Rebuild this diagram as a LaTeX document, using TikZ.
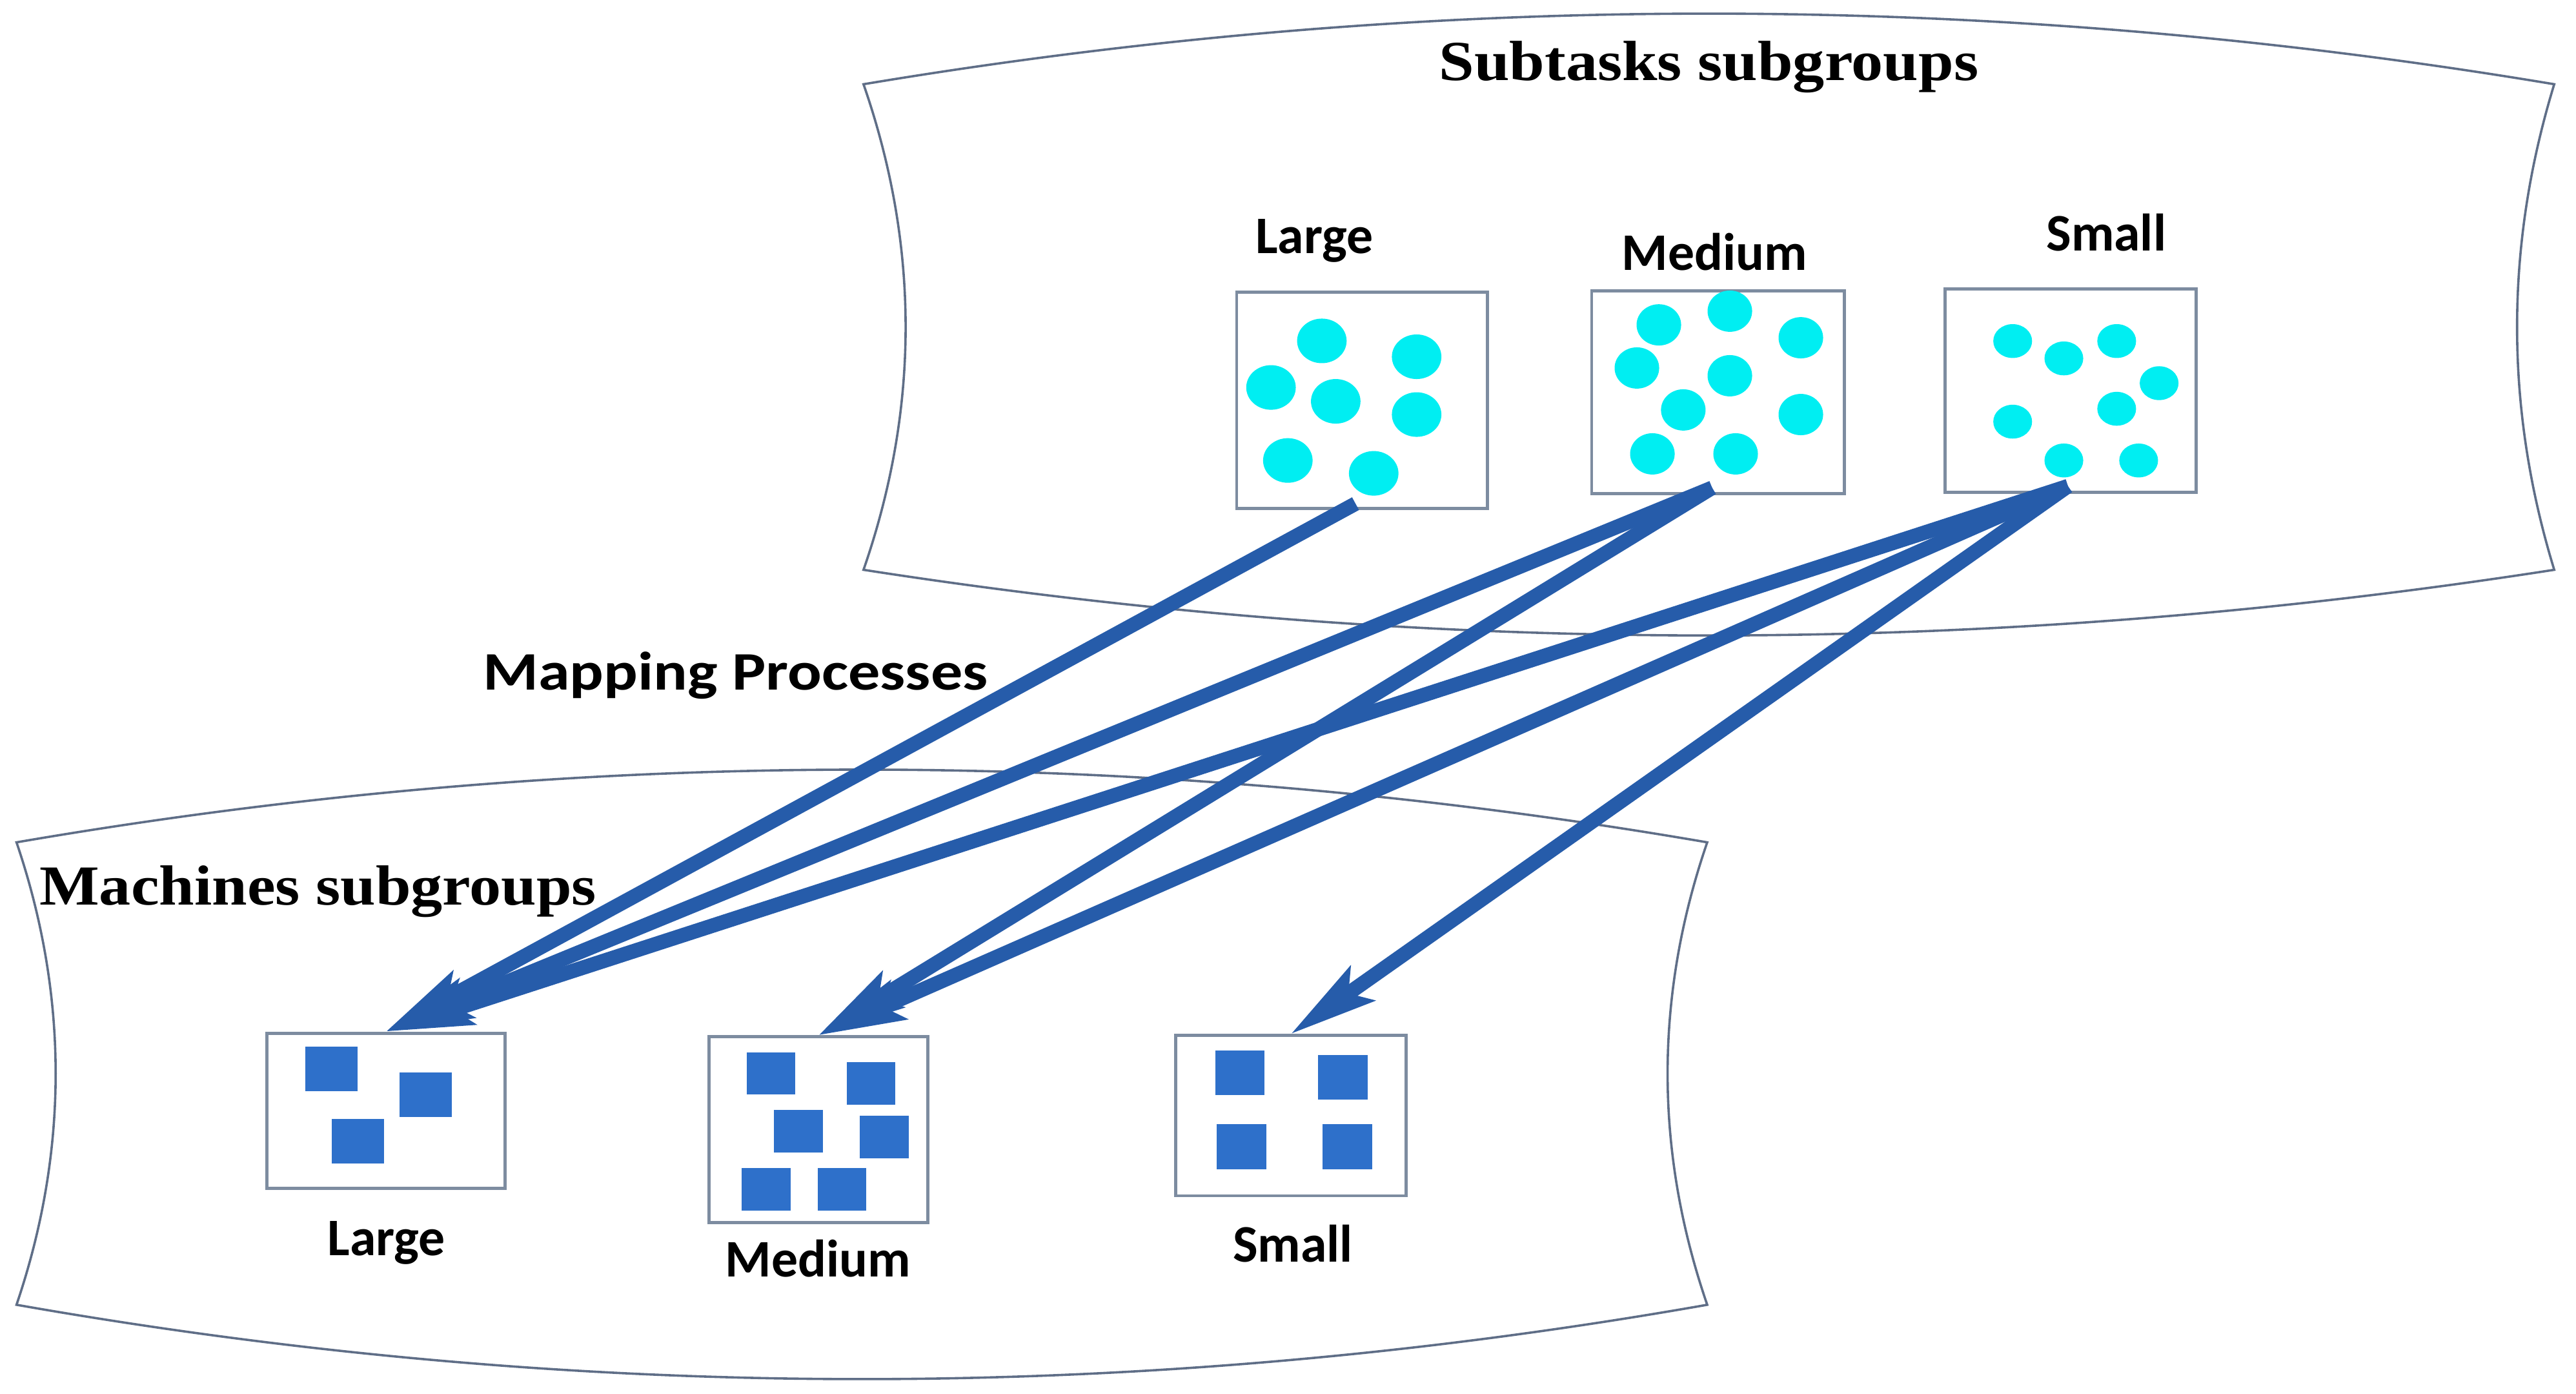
\documentclass[tikz,border=0pt]{standalone}
\usepackage{fontspec}
\usetikzlibrary{arrows.meta}
\newfontfamily\titlefont[FakeStretch=1.12]{Liberation Serif}
\newfontfamily\mapfont[FakeStretch=1.17]{Carlito}
\newfontfamily\sizefont{Carlito}
\definecolor{outline}{RGB}{95,110,135}
\definecolor{boxline}{RGB}{125,140,160}
\definecolor{taskdot}{RGB}{0,238,242}
\definecolor{machinesq}{RGB}{46,112,202}
\definecolor{maparrow}{RGB}{38,92,170}
\tikzset{
  group/.style={draw=outline, line width=0.8pt},
  subbox/.style={draw=boxline, line width=1.1pt, inner sep=0pt},
  title/.style={font=\titlefont\bfseries\fontsize{19.5}{22}\selectfont, anchor=base, inner sep=0pt},
  maptext/.style={font=\mapfont\bfseries\fontsize{18.7}{21}\selectfont, anchor=base, inner sep=0pt},
  sizelabel/.style={font=\sizefont\bfseries\fontsize{18.2}{20}\selectfont, anchor=base, inner sep=0pt},
  mapping/.style={draw=maparrow, line width=5pt, -{Stealth[length=1.05cm,width=0.5cm,inset=0.2cm]}},
}
\begin{document}
\begin{tikzpicture}[x=0.02cm, y=-0.02cm]
    \useasboundingbox (0,0) rectangle (1560.2,844);
    % subtasks side
    \draw[group] (523,51) .. controls (864,-6) and (1206,-6) .. (1547,51)
      .. controls (1517,149) and (1517,247) .. (1547,345)
      .. controls (1206,398) and (864,398) .. (523,345)
      .. controls (557,247) and (557,149) .. cycle;
    \node[title] (subtasks) at (1035,48.6) {Subtasks subgroups};
    \node[subbox, minimum width=3.04cm, minimum height=2.62cm] (tL) at (825,242.5) {};
    \node[subbox, minimum width=3.06cm, minimum height=2.46cm] (tM) at (1040.5,237.5) {};
    \node[subbox, minimum width=3.04cm, minimum height=2.46cm] (tS) at (1254,236.5) {};
    \node[sizelabel] (tLlabel) at (796,153.3) {Large};
    \node[sizelabel] (tMlabel) at (1038.5,163.5) {Medium};
    \node[sizelabel] (tSlabel) at (1275.7,152) {Small};
    \foreach \x/\y in {800.6/206.4, 858/216, 769.8/234.6, 809/243, 858/251, 780/278.8, 832/286.6}
      \fill[taskdot] (\x,\y) ellipse [x radius=0.3cm, y radius=0.27cm];
    \foreach \x/\y in {1004.7/196.7, 1047.7/188.4, 1090.7/204.5, 991.4/222.8, 1047.7/227.5,
                       1019.5/248.2, 1090.7/251, 1000.8/274.8, 1051.2/274.8}
      \fill[taskdot] (\x,\y) ellipse [x radius=0.27cm, y radius=0.25cm];
    \foreach \x/\y in {1219/206.5, 1250/217, 1282/206.5, 1307.7/232, 1219/255.3,
                       1282/247.5, 1250/278.8, 1295.3/278.8}
      \fill[taskdot] (\x,\y) ellipse [x radius=0.235cm, y radius=0.205cm];

    % machines side
    \draw[group] (10,510) .. controls (351,451.3) and (693,451.3) .. (1034,510)
      .. controls (1002,603) and (1002,697) .. (1034,790)
      .. controls (693,850) and (351,850) .. (10,790)
      .. controls (41.6,697) and (41.6,603) .. cycle;
    \node[title, anchor=base west] (machines) at (23.6,548) {Machines subgroups};
    \node[subbox, minimum width=2.89cm, minimum height=1.88cm] (mL) at (233.75,672.5) {};
    \node[subbox, minimum width=2.65cm, minimum height=2.246cm] (mM) at (495.75,683.9) {};
    \node[subbox, minimum width=2.79cm, minimum height=1.94cm] (mS) at (781.8,675.5) {};
    \node[sizelabel] (mLlabel) at (234,760) {Large};
    \node[sizelabel] (mMlabel) at (495.5,773) {Medium};
    \node[sizelabel] (mSlabel) at (783,764) {Small};
    \foreach \x/\y in {200.8/647, 257.8/663, 216.8/691}
      \fill[machinesq] (\x-15.8,\y-13.5) rectangle (\x+15.8,\y+13.5);
    \foreach \x/\y in {467/650, 527.5/656, 483.5/685, 535.5/688.5, 464/720, 510/720}
      \fill[machinesq] (\x-14.8,\y-12.8) rectangle (\x+14.8,\y+12.8);
    \foreach \x/\y in {751/649.5, 813.3/652.2, 752/694.3, 816/694.3}
      \fill[machinesq] (\x-15,\y-13.5) rectangle (\x+15,\y+13.5);

    % mapping arrows
    \node[maptext] (maplabel) at (445.5,417.6) {Mapping Processes};
    \coordinate (fromL) at ([shift={(-4,-4)}]tL.south);
    \coordinate (fromM) at ([shift={(-3.5,-4.6)}]tM.south);
    \coordinate (fromS) at ([shift={(-1.5,-4.6)}]tS.south);
    \draw[mapping] (fromL) -- (mL.north);
    \draw[mapping] (fromM) -- (mL.north);
    \draw[mapping] (fromM) -- (mM.north);
    \draw[mapping] (fromS) -- (mL.north);
    \draw[mapping] (fromS) -- (mM.north);
    \draw[mapping] (fromS) -- (mS.north);
\end{tikzpicture}
\end{document}
